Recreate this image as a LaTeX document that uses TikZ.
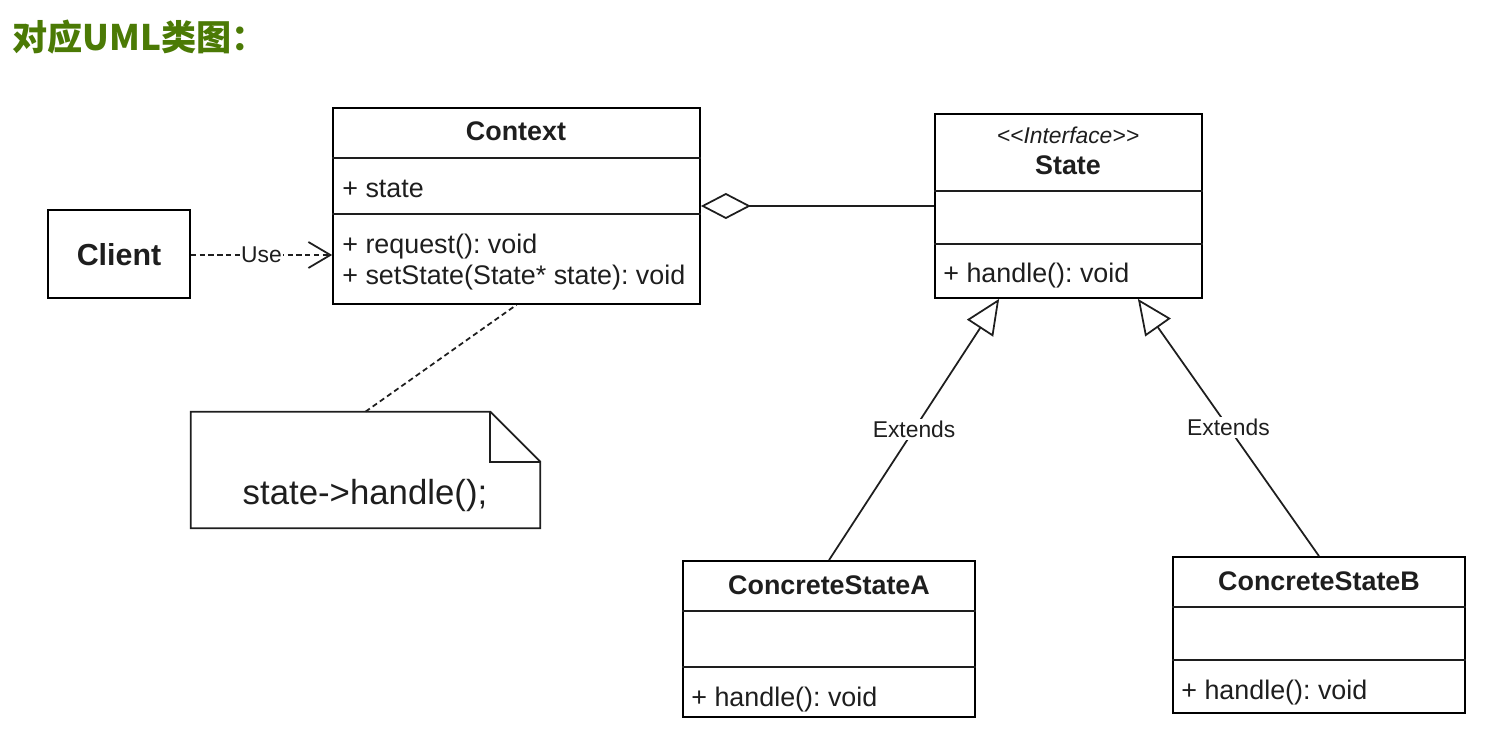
\documentclass[tikz,border=0pt]{standalone}
\usepackage{fontspec}
\setmainfont{Liberation Sans}
\newfontfamily\cjkfont{Noto Sans CJK SC}
\usetikzlibrary{arrows.meta,calc,fit}
\frenchspacing

\definecolor{titlegreen}{RGB}{75,122,5}
\definecolor{inkgray}{RGB}{30,30,30}

\tikzset{
  classbox/.style   = {draw, line width=1pt, inner sep=0pt, fit={#1}},
  classname/.style  = {inner sep=0pt, text=inkgray,
                       font=\bfseries\fontsize{15.3}{18}\selectfont},
  member/.style     = {anchor=west, inner sep=0pt, text=inkgray,
                       font=\fontsize{15.3}{18}\selectfont},
  stereo/.style     = {inner sep=0pt, text=inkgray,
                       font=\itshape\fontsize{13}{15}\selectfont},
  edgelabel/.style  = {fill=white, inner sep=1pt, text=inkgray,
                       font=\fontsize{13}{15}\selectfont},
  link/.style       = {line width=1pt, draw=inkgray},
  uselink/.style    = {link, dash pattern=on 3pt off 2pt,
                       -{Straight Barb[length=0.44cm,width=0.52cm]}},
  extendlink/.style = {link, -{Triangle[open,length=0.7cm,width=0.62cm]}},
  notelink/.style   = {link, dash pattern=on 3pt off 2pt}
}

\begin{document}
\begin{tikzpicture}[x=0.02cm,y=-0.02cm]
  \useasboundingbox (0,0) rectangle (1487,742);

  % title
  \node[anchor=west, inner sep=0pt, text=titlegreen,
        font=\cjkfont\bfseries\fontsize{20}{24}\selectfont] (title) at (12,37) {对应UML类图：};

  % client
  \node[classbox={(48,210) (190,298)}] (client) {};
  \node[inner sep=0pt, text=inkgray, font=\bfseries\fontsize{17.3}{20}\selectfont]
    at (119,255) {Client};

  % context
  \node[classbox={(333,108) (700,304)}] (context) {};
  \draw[link] ($(context.north west)+(0,51)$) -- ($(context.north east)+(0,51)$);
  \draw[link] ($(context.north west)+(0,107)$) -- ($(context.north east)+(0,107)$);
  \node[classname] at (516,131) {Context};
  \node[member] at (342,189) {+ state};
  \node[member] at (342,247) {+ request(): void};
  \node[member] at (342,278) {+ setState(State* state): void};

  % state interface
  \node[classbox={(935,114) (1202,298)}] (state) {};
  \draw[link] ($(state.north west)+(0,78)$) -- ($(state.north east)+(0,78)$);
  \draw[link] ($(state.north west)+(0,131)$) -- ($(state.north east)+(0,131)$);
  \node[stereo] at (1068,135) {\mbox{<}\mbox{<}Interface\mbox{>}\mbox{>}};
  \node[classname] at (1068,165) {State};
  \node[member] at (943,276) {+ handle(): void};

  % concrete states
  \node[classbox={(683,561) (975,717)}] (stateA) {};
  \draw[link] ($(stateA.north west)+(0,51)$) -- ($(stateA.north east)+(0,51)$);
  \draw[link] ($(stateA.north west)+(0,107)$) -- ($(stateA.north east)+(0,107)$);
  \node[classname] at (829,585) {ConcreteStateA};
  \node[member] at (691,700) {+ handle(): void};

  \node[classbox={(1173,557) (1465,713)}] (stateB) {};
  \draw[link] ($(stateB.north west)+(0,51)$) -- ($(stateB.north east)+(0,51)$);
  \draw[link] ($(stateB.north west)+(0,104)$) -- ($(stateB.north east)+(0,104)$);
  \node[classname] at (1319,581) {ConcreteStateB};
  \node[member] at (1181,693) {+ handle(): void};

  % note
  \node[inner sep=0pt, fit={(191,412) (540,528)}] (note) {};
  \draw[link] (note.north west) -- ($(note.north east)+(-50,0)$)
    -- ($(note.north east)+(0,50)$) -- (note.south east) -- (note.south west) -- cycle;
  \draw[link] ($(note.north east)+(-50,0)$) |- ($(note.north east)+(0,50)$);
  \node[inner sep=0pt, text=inkgray, font=\fontsize{19.8}{23}\selectfont]
    at (365,495) {state->handle();};

  % connectors
  \draw[uselink] (client.east |- 0,255) -- (context.west |- 0,255)
    node[midway, edgelabel, inner sep=0.5pt] {Use};
  \draw[link, {Diamond[open,length=1cm,width=0.52cm]}-] (context.east) -- (state.west);
  \draw[notelink] (note.north) -- (context.south);
  \draw[extendlink] (stateA.north) -- ($(state.south west)+(65,0)$)
    node[midway, edgelabel] {Extends};
  \draw[extendlink] (stateB.north) -- ($(state.south east)+(-65,0)$)
    node[midway, edgelabel] {Extends};
\end{tikzpicture}
\end{document}
